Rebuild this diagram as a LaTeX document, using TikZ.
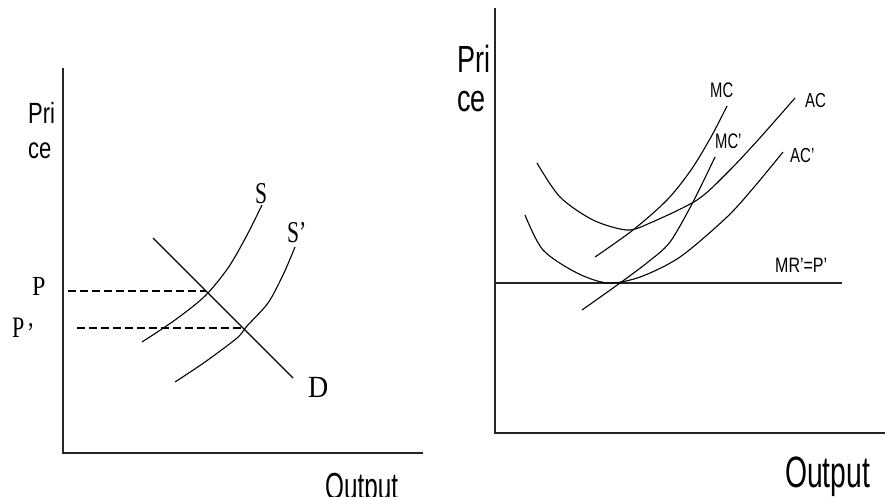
\documentclass[tikz,border=0pt]{standalone}
\usepackage{fontspec}
\setmainfont{Liberation Serif}
\setsansfont{Liberation Sans}
\tikzset{
  axis/.style={line width=1.8pt, black!85},
  curve/.style={line width=1.1pt, black},
  guide/.style={line width=1.1pt, black, dash pattern=on 8pt off 4pt},
  lbl/.style={inner sep=0pt, anchor=base west},
}
\newcommand\tallsans[3]{\scalebox{1}[#2]{\fontsize{#1}{#1}\selectfont\sffamily #3}}
\newcommand\tallserif[3]{\scalebox{1}[#2]{\fontsize{#1}{#1}\selectfont\rmfamily #3}}
\begin{document}
\begin{tikzpicture}[x=1pt,y=-1pt]
\useasboundingbox (0,0) rectangle (885,496);
\begin{scope}
\clip (0,0) rectangle (885,496);
% ---------- left panel ----------
\coordinate (LO) at (63,453);
\coordinate (LY) at (63,68);
\coordinate (LX) at (423,453);
\draw[axis] (LY) -- (LO) -- (LX);
\node[lbl] (lpri) at (28,123) {\tallsans{22}{1.33}{Pri}};
\node[lbl] (lce) at (28,158) {\tallsans{22}{1.33}{ce}};
\node[lbl] (lout) at (325,499) {\tallsans{24.3}{1.55}{Output}};
% demand
\coordinate (D1) at (153,238);
\coordinate (D2) at (293,378);
\draw[curve] (D1) -- (D2);
% supply curves
\draw[curve] plot[smooth] coordinates {(142,342) (175,320) (205,296) (228,268) (246,237) (262,205)};
\draw[curve] plot[smooth] coordinates {(175,382) (205,362) (237,338) (247,326) (268,303) (283,275) (295,247)};
% equilibria
\coordinate (E1) at (206,291);
\coordinate (E2) at (243,328);
\coordinate (P1) at (68,291);
\coordinate (P2) at (77,328);
\draw[guide] (P1) -- (E1);
\draw[guide] (P2) -- (E2);
\node[lbl] (lS) at (255,203) {\tallserif{21.6}{1.4}{S}};
\node[lbl] (lS2) at (287,242) {\tallserif{21.6}{1.4}{S’}};
\node[lbl] (lD) at (308,397) {\tallserif{28}{1.1}{D}};
\node[lbl] (lP) at (32,295) {\tallserif{24}{1.15}{P}};
\node[lbl] (lP2) at (12,337) {\tallserif{22}{1.35}{P\,\raisebox{0.8ex}{,}}};
% ---------- right panel ----------
\coordinate (RO) at (495,433);
\coordinate (RY) at (495,8);
\coordinate (RX) at (885,433);
\draw[axis] (RY) -- (RO) -- (RX);
\node[lbl] (rpri) at (457,72) {\tallsans{27}{1.4}{Pri}};
\node[lbl] (rce) at (457,111) {\tallsans{27}{1.4}{ce}};
\node[lbl] (rout) at (785,487) {\tallsans{28.3}{1.55}{Output}};
\coordinate (MR1) at (495,283);
\coordinate (MR2) at (842,283);
\draw[line width=1.5pt, black!85] (MR1) -- (MR2);
% AC and AC'
\draw[curve] plot[smooth] coordinates {(537,163) (560,197) (593,220) (627,230) (650,223) (697,200) (727,173) (758,140) (795,98)};
\draw[curve] plot[smooth] coordinates {(525,215) (543,250) (577,273) (608,283) (640,277) (680,257) (727,217) (755,186) (783,152)};
% MC and MC'
\draw[curve] plot[smooth] coordinates {(595,257) (633,230) (667,200) (691,170) (711,137) (727,106)};
\draw[curve] plot[smooth] coordinates {(582,310) (620,283) (648,262) (670,242) (693,202) (715,157)};
\node[lbl] (rMC) at (710,97) {\tallsans{14.8}{1.42}{MC}};
\node[lbl] (rMC2) at (715,148) {\tallsans{14.8}{1.42}{MC'}};
\node[lbl] (rAC) at (805,107) {\tallsans{15}{1.35}{AC}};
\node[lbl] (rAC2) at (790,162) {\tallsans{15}{1.35}{AC'}};
\node[lbl] (rMR) at (775,272) {\tallsans{16}{1.3}{MR'=P'}};
\end{scope}
\end{tikzpicture}
\end{document}
